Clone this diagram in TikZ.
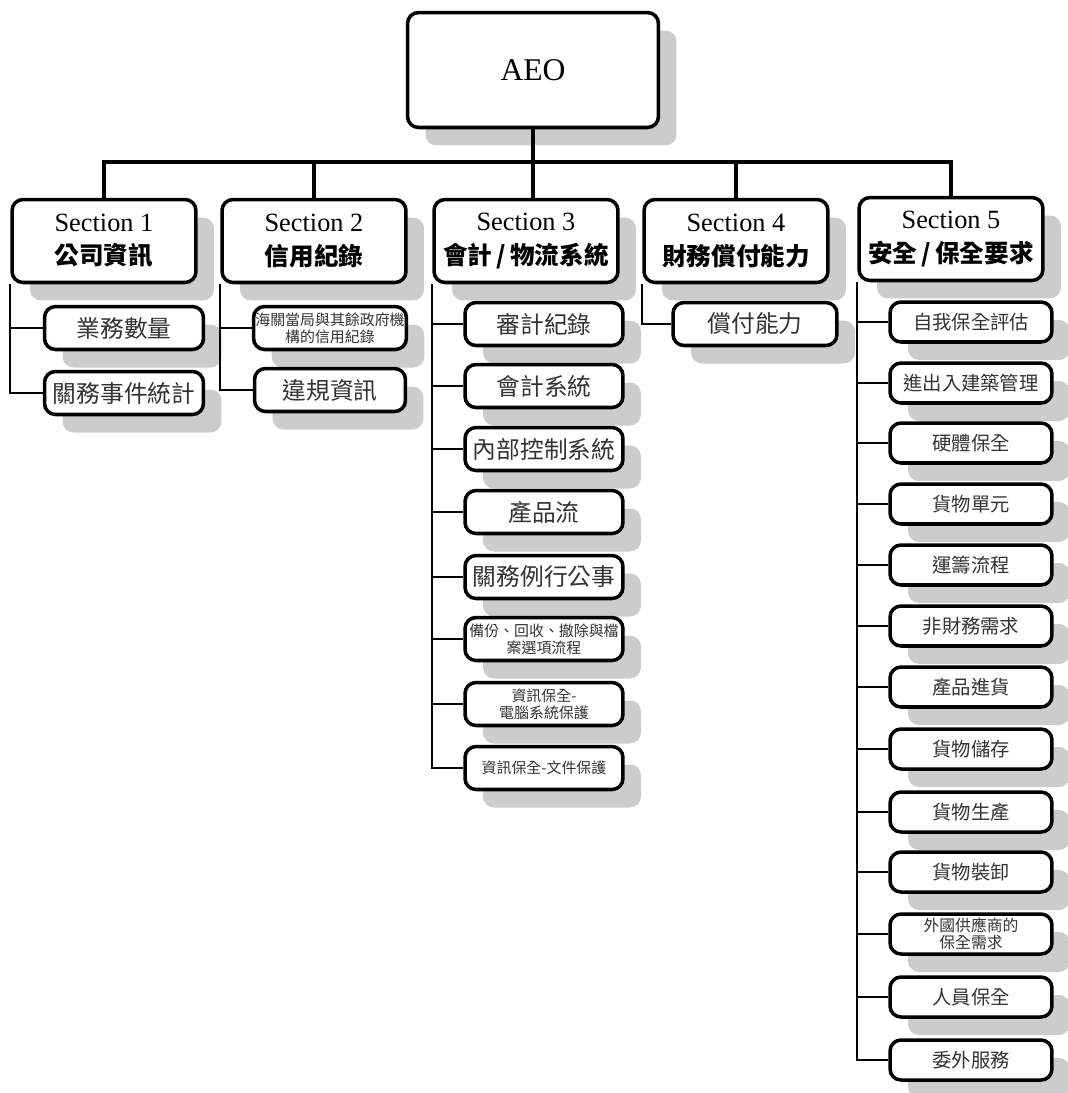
\documentclass[tikz,border=0pt]{standalone}
\usepackage{fontspec}
\setmainfont{Liberation Serif}
\newfontfamily\cjk{Noto Sans CJK TC}
\usetikzlibrary{shadows}

\begin{document}
\begin{tikzpicture}[
  x=0.02cm, y=-0.02cm,
  box/.style={draw=black, line width=2pt, rounded corners=0.22cm, fill=white, align=center, inner sep=1pt,
    drop shadow={shadow xshift=0.36cm, shadow yshift=-0.36cm, fill=black!20, opacity=1}},
  top/.style={box, minimum width=5.02cm, minimum height=2.3cm, font=\fontsize{18}{20}\selectfont},
  sect/.style={box, minimum width=3.68cm, minimum height=1.66cm, font=\fontsize{15}{19}\selectfont},
  leaf/.style={box, minimum height=0.86cm, text=black!80, font=\cjk\fontsize{13.5}{15}\selectfont},
  twoline/.style={leaf, font=\cjk\fontsize{8.5}{9.5}\selectfont},
  sleaf/.style={leaf, minimum width=3.24cm, minimum height=0.8cm, font=\cjk\fontsize{11}{13}\selectfont},
  trunk/.style={line width=1.8pt},
  branch/.style={line width=1.2pt},
]

\useasboundingbox (0,0) rectangle (1068,1093);

\node[top] (aeo) at (533,70) {AEO};

\node[sect] (s1) at (104,241) {Section 1\\{\cjk\bfseries\fontsize{14}{19}\selectfont 公司資訊}};
\node[sect] (s2) at (314,241) {Section 2\\{\cjk\bfseries\fontsize{14}{19}\selectfont 信用紀錄}};
\node[sect] (s3) at (526,241) {Section 3\\{\cjk\bfseries\fontsize{14}{19}\selectfont 會計\,/\,物流系統}};
\node[sect] (s4) at (736,241) {Section 4\\{\cjk\bfseries\fontsize{14}{19}\selectfont 財務償付能力}};
\node[sect] (s5) at (951,239) {Section 5\\{\cjk\bfseries\fontsize{14}{19}\selectfont 安全\,/\,保全要求}};

% section 1
\node[leaf, minimum width=3.18cm] (s1a) at (124,328) {業務數量};
\node[leaf, minimum width=3.18cm] (s1b) at (124,393) {關務事件統計};

% section 2
\node[twoline, minimum width=3.02cm] (s2a) at (330,328) {海關當局與其餘政府機\\構的信用紀錄};
\node[leaf, minimum width=3.02cm] (s2b) at (330,390) {違規資訊};

% section 3
\node[leaf, minimum width=3.16cm] (s3a) at (544,324) {審計紀錄};
\node[leaf, minimum width=3.16cm] (s3b) at (544,386) {會計系統};
\node[leaf, minimum width=3.16cm] (s3c) at (544,449) {內部控制系統};
\node[leaf, minimum width=3.16cm] (s3d) at (544,512) {產品流};
\node[leaf, minimum width=3.16cm] (s3e) at (544,577) {關務例行公事};
\node[twoline, minimum width=3.16cm] (s3f) at (544,639) {備份、回收、撤除與檔\\案選項流程};
\node[twoline, minimum width=3.16cm] (s3g) at (544,704) {資訊保全-\\電腦系統保護};
\node[twoline, minimum width=3.16cm] (s3h) at (544,768) {資訊保全-文件保護};

% section 4
\node[leaf, minimum width=3.28cm] (s4a) at (755,324) {償付能力};

% section 5
\node[sleaf] (s5a) at (971,322) {自我保全評估};
\node[sleaf] (s5b) at (971,383) {進出入建築管理};
\node[sleaf] (s5c) at (971,443) {硬體保全};
\node[sleaf] (s5d) at (971,504) {貨物單元};
\node[sleaf] (s5e) at (971,565) {運籌流程};
\node[sleaf] (s5f) at (971,626) {非財務需求};
\node[sleaf] (s5g) at (971,687) {產品進貨};
\node[sleaf] (s5h) at (971,749) {貨物儲存};
\node[sleaf] (s5i) at (971,812) {貨物生產};
\node[sleaf] (s5j) at (971,872) {貨物裝卸};
\node[sleaf, font=\cjk\fontsize{9}{10}\selectfont] (s5k) at (971,934) {外國供應商的\\保全需求};
\node[sleaf] (s5l) at (971,997) {人員保全};
\node[sleaf] (s5m) at (971,1060) {委外服務};

% top level
\coordinate (bus) at (533,162);
\draw[trunk] (aeo.south) -- (bus);
\draw[trunk] (s1.north) |- (bus) -| (s5.north);
\draw[trunk] (s2.north) -- (s2.north |- bus);
\draw[trunk] (s4.north) -- (s4.north |- bus);
\draw[trunk] (bus) -- (bus |- s3.north);

% branches
\draw[branch] (s1.south west) |- (s1a.west);
\draw[branch] (s1.south west) |- (s1b.west);
\draw[branch] (s2.south west) |- (s2a.west);
\draw[branch] (s2.south west) |- (s2b.west);
\draw[branch] (s3.south west) |- (s3a.west);
\draw[branch] (s3.south west) |- (s3b.west);
\draw[branch] (s3.south west) |- (s3c.west);
\draw[branch] (s3.south west) |- (s3d.west);
\draw[branch] (s3.south west) |- (s3e.west);
\draw[branch] (s3.south west) |- (s3f.west);
\draw[branch] (s3.south west) |- (s3g.west);
\draw[branch] (s3.south west) |- (s3h.west);
\draw[branch] (s4.south west) |- (s4a.west);
\draw[branch] (s5.south west) |- (s5a.west);
\draw[branch] (s5.south west) |- (s5b.west);
\draw[branch] (s5.south west) |- (s5c.west);
\draw[branch] (s5.south west) |- (s5d.west);
\draw[branch] (s5.south west) |- (s5e.west);
\draw[branch] (s5.south west) |- (s5f.west);
\draw[branch] (s5.south west) |- (s5g.west);
\draw[branch] (s5.south west) |- (s5h.west);
\draw[branch] (s5.south west) |- (s5i.west);
\draw[branch] (s5.south west) |- (s5j.west);
\draw[branch] (s5.south west) |- (s5k.west);
\draw[branch] (s5.south west) |- (s5l.west);
\draw[branch] (s5.south west) |- (s5m.west);

\end{tikzpicture}
\end{document}
